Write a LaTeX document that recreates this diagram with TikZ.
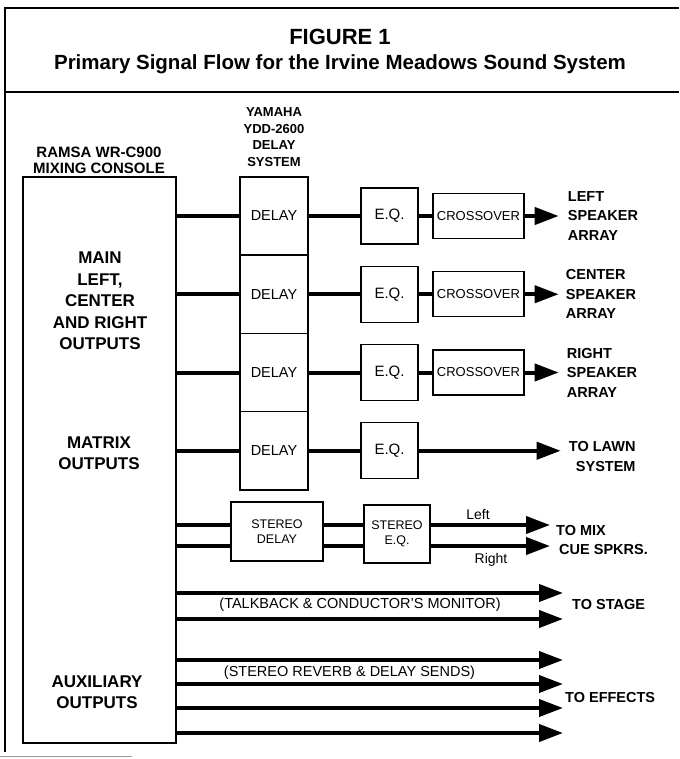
\documentclass[tikz,border=0pt]{standalone}
\usepackage{fontspec}
\setmainfont{Liberation Sans}
\usetikzlibrary{arrows.meta,positioning}

\tikzset{
  frame/.style={line width=1.6pt},
  box/.style={draw, line width=1.4pt, inner sep=0pt, align=center,
    font=\fontsize{14.5}{16}\selectfont},
  wire/.style={line width=4pt},
  sig/.style={line width=4pt, -{Triangle[length=24pt,width=17pt]}},
  head/.style={font=\bfseries\fontsize{15}{16}\selectfont, align=center},
  conlbl/.style={font=\bfseries\fontsize{17}{21.5}\selectfont, align=center},
  lbl/.style={font=\bfseries\fontsize{14.5}{19.5}\selectfont, align=left, anchor=west, inner sep=0pt},
  lead/.style={font=\fontsize{14.5}{16}\selectfont, inner sep=0pt},
}

\begin{document}
\begin{tikzpicture}[x=1pt, y=-1pt]
    \useasboundingbox (0,0) rectangle (679,759);
    % frame and title
    \draw[frame] (679,8) -- (5,8) -- (5,752);
    \draw[frame] (5,92) -- (679,92);
    \draw[line width=1pt, black!40] (0,756) -- (132,756);
    \node[font=\bfseries\fontsize{22}{24}\selectfont] (fig) at (340,37) {FIGURE 1};
    \node[font=\bfseries\fontsize{20.5}{24}\selectfont] (ttl) at (340,64) {Primary Signal Flow for the Irvine Meadows Sound System};

    % console
    \node[head] (conhd) at (99,160) {RAMSA WR-C900\\MIXING CONSOLE};
    \node[box, minimum width=153pt, minimum height=566pt] (console) at (99.5,460) {};
    \node[conlbl] (main) at (100,301) {MAIN\\LEFT,\\CENTER\\AND RIGHT\\OUTPUTS};
    \node[conlbl] (matrix) at (99,453) {MATRIX\\OUTPUTS};
    \node[conlbl] (aux) at (97,692) {AUXILIARY\\OUTPUTS};

    % delay column, eq and crossovers
    \node[head, font=\bfseries\fontsize{13}{16.5}\selectfont] (dlyhd) at (274,137) {YAMAHA\\YDD-2600\\DELAY\\SYSTEM};
    \foreach \n/\y in {1/216,2/294.25,3/372.5,4/450.75} {
        \node[box, minimum width=68pt, minimum height=78.25pt] (d\n) at (274,\y) {DELAY};
        \node[box, font=\fontsize{15}{16}\selectfont, minimum width=57pt, minimum height=56pt] (eq\n) at (389.5,\y) {E.Q.};
        \draw[wire] (console.east |- d\n.west) -- (d\n.west);
        \draw[wire] (d\n.east) -- (eq\n.west);
    }
    \foreach \n in {1,2,3} {
        \node[box, font=\fontsize{13}{16}\selectfont, minimum width=91pt, minimum height=45pt] (xo\n) at (eq\n.center -| 478.5,0) {CROSSOVER};
        \coordinate (tip\n) at ([xshift=34pt]xo\n.east);
        \draw[wire] (eq\n.east) -- (xo\n.west);
        \draw[sig] (xo\n.east) -- (tip\n);
    }
    \coordinate (tip4) at ([xshift=142pt]eq4.east);
    \draw[sig] (eq4.east) -- (tip4);
    \node[lbl, right=9pt of tip1] (spkl) {LEFT\\SPEAKER\\ARRAY};
    \node[lbl, right=7pt of tip2] (spkc) {CENTER\\SPEAKER\\ARRAY};
    \node[lbl, right=8pt of tip3] (spkr) {RIGHT\\SPEAKER\\ARRAY};
    \node[lbl, right=8pt of tip4, yshift=-6pt] (lawn) {TO LAWN\\\hspace*{7pt}SYSTEM};

    % stereo cue path
    \node[box, font=\fontsize{12.5}{15}\selectfont, minimum width=92pt, minimum height=59pt] (sdly) at (277,531.5) {STEREO\\DELAY};
    \node[box, font=\fontsize{12.5}{15}\selectfont, minimum width=66pt, minimum height=58pt] (seq) at (397,534) {STEREO\\E.Q.};
    \coordinate (mixL) at (550,525);
    \coordinate (mixR) at (550,546);
    \foreach \s in {mixL,mixR} {
        \draw[wire] (console.east |- \s) -- (sdly.west |- \s);
        \draw[wire] (sdly.east |- \s) -- (seq.west |- \s);
        \draw[sig] (seq.east |- \s) -- (\s);
    }
    \node[lead, font=\fontsize{14}{16}\selectfont] (lft) at (478,514) {Left};
    \node[lead, font=\fontsize{14}{16}\selectfont] (rgt) at (491,560) {Right};
    \node[lbl] (mix) at (556,540) {TO MIX\\\hspace*{3pt}CUE SPKRS.};

    % auxiliary sends
    \foreach \n/\y in {1/593,2/619} {
        \coordinate (stg\n) at (563,\y);
        \draw[sig] (console.east |- stg\n) -- (stg\n);
    }
    \node[lead] (tb) at (360,605) {(TALKBACK \& CONDUCTOR'S MONITOR)};
    \node[lbl] (stage) at (572,605) {TO STAGE};
    \foreach \n/\y in {1/660,2/684,3/708,4/733} {
        \coordinate (fx\n) at (563,\y);
        \draw[sig] (console.east |- fx\n) -- (fx\n);
    }
    \node[lead] (rev) at (349.5,673) {(STEREO REVERB \& DELAY SENDS)};
    \node[lbl] (fx) at (565,697) {TO EFFECTS};
\end{tikzpicture}
\end{document}
